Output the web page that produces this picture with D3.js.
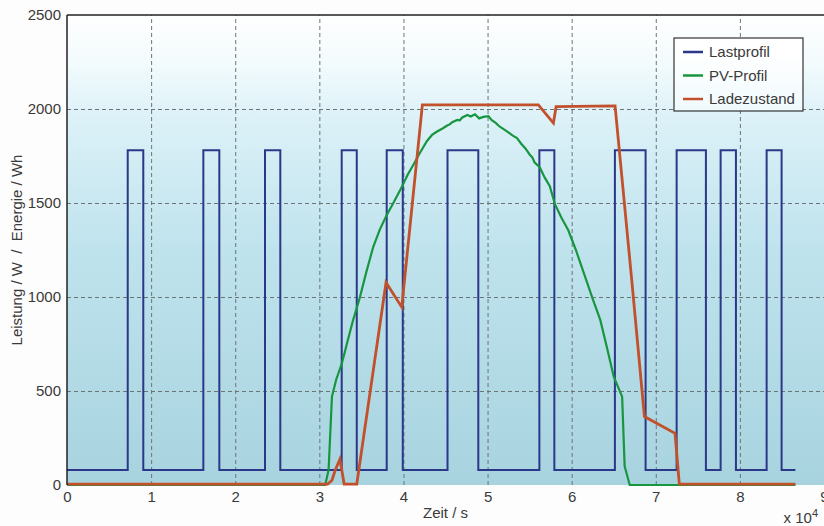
<!DOCTYPE html>
<html>
<head>
<meta charset="utf-8">
<script src="https://cdn.jsdelivr.net/npm/d3@7"></script>
<style>
  body { margin: 0; background: #fdfdfd; }
  text { font-family: "Liberation Sans", Arial, sans-serif; fill: #3a3a3a; }
</style>
</head>
<body>
<div id="chart"></div>
<script>
// time values in units of 10^4 s
const xTicks = [0, 1, 2, 3, 4, 5, 6, 7, 8, 9];
const yTicks = [0, 500, 1000, 1500, 2000, 2500];

// Lastprofil: rectangular pulses
const lastLow = 80;
const lastHigh = 1780;
const pulseStart = [0.722, 1.621, 2.354, 3.266, 3.801, 4.524, 5.616, 6.514, 7.248, 7.771, 8.318];
const pulseEnd   = [0.907, 1.811, 2.536, 3.445, 3.992, 4.890, 5.794, 6.879, 7.596, 7.953, 8.496];
const lastEnd = 8.66;

// PV-Profil
const pvTime = [0, 3.07, 3.11, 3.15, 3.20, 3.27, 3.33, 3.40, 3.48, 3.56, 3.64, 3.72, 3.80, 3.88,
  3.98, 4.05, 4.12, 4.20, 4.28, 4.34, 4.40, 4.46, 4.52, 4.55, 4.58, 4.64, 4.67, 4.70, 4.76, 4.80, 4.85,
  4.90, 4.95, 5.01, 5.05, 5.10, 5.13, 5.15, 5.20, 5.26, 5.30, 5.35, 5.40, 5.45, 5.50, 5.53, 5.56, 5.62,
  5.68, 5.74, 5.80, 5.88, 5.96, 6.05, 6.15, 6.25, 6.34, 6.42, 6.50, 6.60, 6.63, 6.69, 8.66];
const pvPower = [0, 0, 80, 470, 560, 650, 755, 875, 995, 1135, 1265, 1360, 1435, 1500,
  1585, 1650, 1705, 1770, 1830, 1862, 1880, 1895, 1912, 1918, 1930, 1942, 1940, 1955, 1968, 1960, 1972,
  1950, 1958, 1962, 1940, 1925, 1912, 1905, 1890, 1872, 1858, 1845, 1815, 1790, 1758, 1744, 1715, 1690,
  1635, 1590, 1495, 1420, 1355, 1250, 1120, 990, 878, 730, 576, 470, 100, 0, 0];

// Ladezustand
const socTime  = [0, 3.10, 3.15, 3.19, 3.245, 3.295, 3.445, 3.793, 3.98, 4.225, 5.604, 5.783, 5.815, 6.516, 6.714, 6.865, 7.229, 7.28, 8.66];
const socValue = [5, 5, 25, 80, 137, 5, 5, 1077, 946, 2022, 2022, 1925, 2013, 2017, 1091, 364, 275, 5, 5];

const seriesNames = ['Lastprofil', 'PV-Profil', 'Ladezustand'];
const seriesColors = ['#2b3788', '#17963f', '#c2502b'];

class LoadChart {
    constructor(_config) {
        this.config = {
            parentElement: _config.parentElement,
            containerWidth: 824,
            containerHeight: 526,
            margin: { top: 15, right: 0, bottom: 41, left: 67 }
        };
        this.initVis();
    }

    initVis() {
        let vis = this;
        vis.width = vis.config.containerWidth - vis.config.margin.left - vis.config.margin.right;
        vis.height = vis.config.containerHeight - vis.config.margin.top - vis.config.margin.bottom;

        vis.svg = d3.select(vis.config.parentElement).append('svg')
            .attr('width', vis.config.containerWidth)
            .attr('height', vis.config.containerHeight);

        // background gradient, shared by plot and legend
        const grad = vis.svg.append('defs').append('linearGradient')
            .attr('id', 'bg')
            .attr('gradientUnits', 'userSpaceOnUse')
            .attr('x1', 0).attr('x2', 0)
            .attr('y1', vis.config.margin.top).attr('y2', vis.config.margin.top + vis.height);
        [[0, '#ffffff'], [0.1, '#f3fbfd'], [0.22, '#dcf1f8'], [0.5, '#bfe3ed'], [1, '#a7d3df']]
            .forEach(s => grad.append('stop').attr('offset', s[0]).attr('stop-color', s[1]));

        vis.xScale = d3.scaleLinear().domain([0, 9]).range([0, vis.width]);
        vis.yScale = d3.scaleLinear().domain([0, 2500]).range([vis.height, 0]);

        vis.chart = vis.svg.append('g')
            .attr('transform', `translate(${vis.config.margin.left},${vis.config.margin.top})`);

        vis.chart.append('rect')
            .attr('width', vis.width)
            .attr('height', vis.height)
            .attr('fill', 'url(#bg)')
            .attr('transform', `translate(0,${-vis.config.margin.top})`)
            .attr('y', vis.config.margin.top);

        vis.renderVis();
    }

    renderVis() {
        let vis = this;

        // gridlines
        vis.chart.append('g')
            .attr('class', 'grid x-grid')
            .attr('transform', `translate(0,${vis.height})`)
            .call(d3.axisBottom(vis.xScale).tickValues(xTicks.slice(1, -1)).tickSize(-vis.height).tickFormat(''))
            .call(g => g.select('.domain').remove());
        vis.chart.append('g')
            .attr('class', 'grid y-grid')
            .call(d3.axisLeft(vis.yScale).tickValues(yTicks.slice(1, -1)).tickSize(-vis.width).tickFormat(''))
            .call(g => g.select('.domain').remove());
        vis.chart.selectAll('.grid line')
            .attr('stroke', '#6c7478')
            .attr('stroke-width', 1)
            .attr('stroke-dasharray', '4,3');

        // tick labels
        const xAxisG = vis.chart.append('g')
            .attr('transform', `translate(0,${vis.height})`)
            .call(d3.axisBottom(vis.xScale).tickValues(xTicks).tickSize(0).tickPadding(6).tickFormat(d3.format('d')));
        xAxisG.select('.domain').remove();
        xAxisG.selectAll('text').attr('font-size', 15).attr('fill', '#3a3a3a')
            .style('font-family', '"Liberation Sans", Arial, sans-serif');

        const yAxisG = vis.chart.append('g')
            .call(d3.axisLeft(vis.yScale).tickValues(yTicks).tickSize(0).tickPadding(6).tickFormat(d3.format('d')));
        yAxisG.select('.domain').remove();
        yAxisG.selectAll('text').attr('font-size', 15).attr('fill', '#3a3a3a')
            .style('font-family', '"Liberation Sans", Arial, sans-serif');

        // series
        let lastPts = [[0, lastLow]];
        pulseStart.forEach((s, i) => {
            lastPts.push([s, lastLow], [s, lastHigh], [pulseEnd[i], lastHigh], [pulseEnd[i], lastLow]);
        });
        lastPts.push([lastEnd, lastLow]);
        const pvPts = pvTime.map((t, i) => [t, pvPower[i]]);
        const socPts = socTime.map((t, i) => [t, socValue[i]]);

        const line = d3.line()
            .x(d => vis.xScale(d[0]))
            .y(d => vis.yScale(d[1]));

        [[lastPts, 2], [pvPts, 2.2], [socPts, 2.8]].forEach((s, i) => {
            vis.chart.append('path')
                .datum(s[0])
                .attr('fill', 'none')
                .attr('stroke', seriesColors[i])
                .attr('stroke-width', s[1])
                .attr('stroke-linejoin', 'miter')
                .attr('d', line);
        });

        // frame
        vis.chart.append('line')
            .attr('x1', 0).attr('x2', 0).attr('y1', 0).attr('y2', vis.height)
            .attr('stroke', '#222').attr('stroke-width', 1.5);
        vis.chart.append('line')
            .attr('x1', 0).attr('x2', vis.width).attr('y1', 0).attr('y2', 0)
            .attr('stroke', '#222').attr('stroke-width', 1.5);

        // axis titles
        vis.svg.append('text')
            .attr('x', vis.config.margin.left + vis.xScale(4.5))
            .attr('y', 518)
            .attr('text-anchor', 'middle')
            .attr('font-size', 15)
            .text('Zeit / s');

        const expo = vis.svg.append('text')
            .attr('x', 818)
            .attr('y', 523)
            .attr('text-anchor', 'end')
            .attr('font-size', 15);
        expo.append('tspan').text('x 10');
        expo.append('tspan').attr('font-size', 11).attr('dy', -6).text('4');

        vis.svg.append('text')
            .attr('transform', `translate(22,${vis.config.margin.top + vis.height / 2}) rotate(-90)`)
            .attr('text-anchor', 'middle')
            .attr('font-size', 15)
            .attr('xml:space', 'preserve')
            .text('Leistung / W  /  Energie / Wh');

        // legend
        const legend = vis.svg.append('g').attr('transform', 'translate(674,38)');
        legend.append('rect')
            .attr('width', 129)
            .attr('height', 73)
            .attr('fill', 'url(#bg)')
            .attr('transform', 'translate(0,0)')
            .attr('stroke', '#333')
            .attr('stroke-width', 1.2);
        seriesNames.forEach((name, i) => {
            const row = legend.append('g').attr('transform', `translate(0,${14 + i * 23.5})`);
            row.append('line')
                .attr('x1', 9).attr('x2', 29)
                .attr('stroke', seriesColors[i])
                .attr('stroke-width', 2.5);
            row.append('text')
                .attr('x', 35)
                .attr('dy', '0.35em')
                .attr('font-size', 15)
                .text(name);
        });
    }
}

new LoadChart({ parentElement: '#chart' });
</script>
</body>
</html>
